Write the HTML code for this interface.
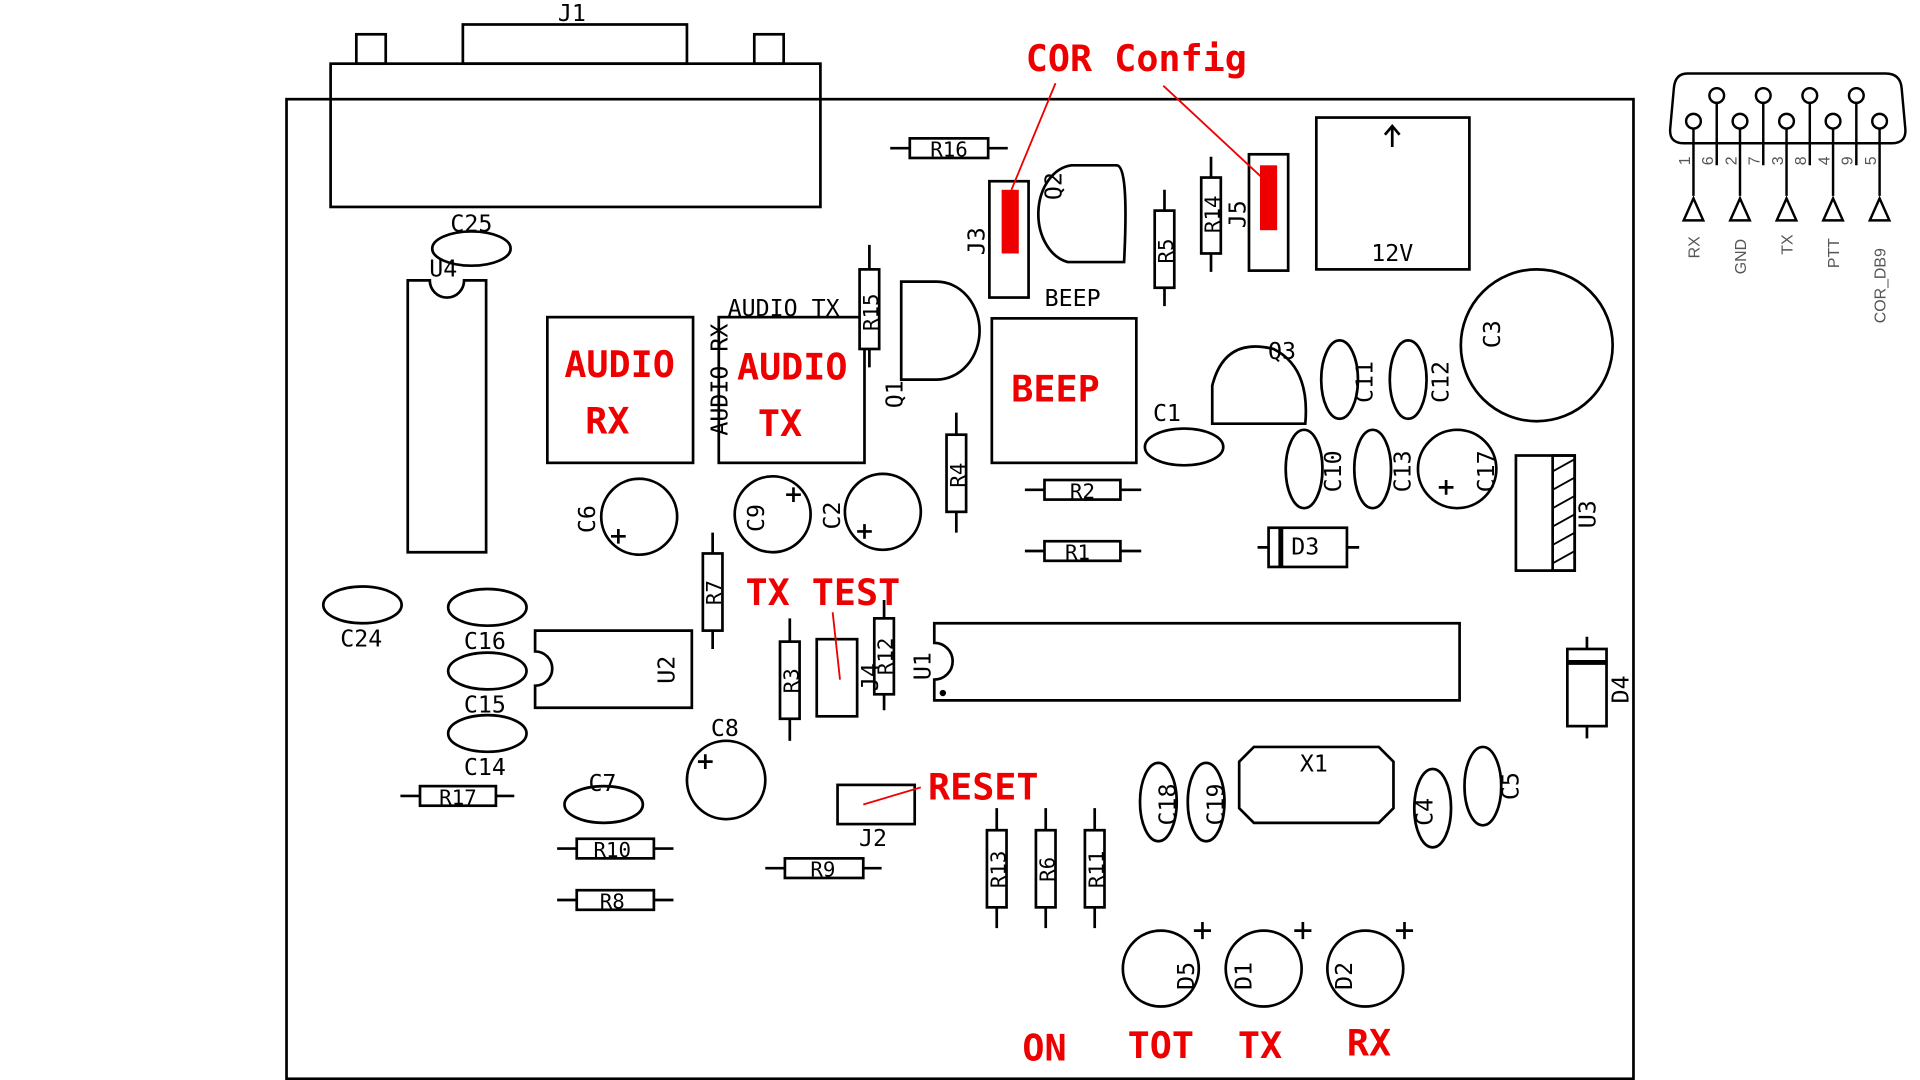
<!DOCTYPE html>
<html><head><meta charset="utf-8"><style>
html,body{margin:0;padding:0;background:#fff;width:1920px;height:1080px;overflow:hidden}
svg{display:block}
.t{font-family:"DejaVu Sans Mono","Liberation Mono",monospace;font-size:19px;fill:#000}
.r{font-family:"DejaVu Sans Mono","Liberation Mono",monospace;font-size:30px;font-weight:bold;fill:#e00}
.g{font-family:"Liberation Sans",sans-serif;font-size:13px;fill:#555}
</style></head><body>
<svg width="1920" height="1080" viewBox="0 0 1568 882" preserveAspectRatio="none" xmlns="http://www.w3.org/2000/svg">
<g fill="none" stroke="#000" stroke-width="2.2">
<rect x="234" y="81" width="1100" height="800"/>
<rect x="270" y="52" width="400" height="117"/>
<rect x="378" y="20" width="183" height="32"/>
<rect x="291" y="28" width="24" height="24"/><rect x="616" y="28" width="24" height="24"/>
<ellipse cx="385" cy="203" rx="32" ry="14"/>
<path d="M333 229H351A14 14 0 0 0 379 229H397V451H333Z"/>
<rect x="447" y="259" width="119" height="119"/>
<rect x="587" y="259" width="119" height="119"/>
<line x1="710" y1="200" x2="710" y2="300"/><rect x="702" y="220" width="16" height="65" fill="#fff"/>
<path d="M736 230H765A35 40 0 0 1 765 310H736Z"/>
<rect x="808" y="148" width="32" height="95"/>
<path d="M875 135H912Q922 135 918 214H872A30 40 0 0 1 875 135Z"/>
<line x1="951" y1="155" x2="951" y2="250"/><rect x="943" y="172" width="16" height="63" fill="#fff"/>
<line x1="989" y1="128" x2="989" y2="222"/><rect x="981" y="145" width="16" height="62" fill="#fff"/>
<rect x="1020" y="126" width="32" height="95"/>
<rect x="1075" y="96" width="125" height="124"/>
<path d="M1137 103V120M1131 110L1137 103L1143 110"/>
<rect x="810" y="260" width="118" height="118"/>
<line x1="781" y1="337" x2="781" y2="435"/><rect x="773" y="355" width="16" height="63" fill="#fff"/>
<line x1="837" y1="400" x2="932" y2="400"/><rect x="853" y="392" width="62" height="16" fill="#fff"/>
<line x1="837" y1="450" x2="932" y2="450"/><rect x="853" y="442" width="62" height="16" fill="#fff"/>
<line x1="727" y1="121" x2="823" y2="121"/><rect x="743" y="113" width="64" height="16" fill="#fff"/>
<ellipse cx="967" cy="365" rx="32" ry="15"/>
<path d="M990 346H1066Q1070 300 1040 285Q1000 275 990 315Z"/>
<ellipse cx="1094" cy="310" rx="15" ry="32"/><ellipse cx="1150" cy="310" rx="15" ry="32"/>
<ellipse cx="1065" cy="383" rx="15" ry="32"/><ellipse cx="1121" cy="383" rx="15" ry="32"/>
<circle cx="1255" cy="282" r="62"/>
<circle cx="1190" cy="383" r="32"/>
<path d="M1175 398H1187M1181 392V404"/>
<rect x="1238" y="372" width="48" height="94"/><rect x="1268" y="372" width="18" height="94"/>
<path d="M1268 385L1286 375M1268 400L1286 390M1268 415L1286 405M1268 430L1286 420M1268 445L1286 435M1268 460L1286 450" stroke-width="1.5"/>
<line x1="1027" y1="447" x2="1110" y2="447"/><rect x="1036" y="431" width="64" height="32" fill="#fff"/><line x1="1046" y1="431" x2="1046" y2="463" stroke-width="4"/>
<circle cx="522" cy="422" r="31"/><path d="M499 438H511M505 432V444"/>
<circle cx="631" cy="420" r="31"/><path d="M642 404H654M648 398V410"/>
<circle cx="721" cy="418" r="31"/><path d="M700 434H712M706 428V440"/>
<line x1="582" y1="435" x2="582" y2="530"/><rect x="574" y="452" width="16" height="63" fill="#fff"/>
<ellipse cx="296" cy="494" rx="32" ry="15"/>
<ellipse cx="398" cy="496" rx="32" ry="15"/><ellipse cx="398" cy="548" rx="32" ry="15"/><ellipse cx="398" cy="599" rx="32" ry="15"/>
<path d="M437 515H565V578H437V560A14 14 0 0 0 437 532Z"/>
<circle cx="593" cy="637" r="32"/><path d="M570 622H582M576 616V628"/>
<line x1="645" y1="505" x2="645" y2="605"/><rect x="637" y="524" width="16" height="63" fill="#fff"/>
<rect x="667" y="522" width="33" height="63"/>
<line x1="722" y1="490" x2="722" y2="580"/><rect x="714" y="505" width="16" height="62" fill="#fff"/>
<path d="M763 509H1192V572H763V555A15 15 0 0 0 763 525Z"/>
<line x1="1296" y1="520" x2="1296" y2="603"/><rect x="1280" y="530" width="32" height="63" fill="#fff"/><line x1="1280" y1="541" x2="1312" y2="541" stroke-width="4"/>
<path d="M1024 610H1126L1138 622V660L1126 672H1024L1012 660V622Z"/>
<ellipse cx="946" cy="655" rx="15" ry="32"/><ellipse cx="985" cy="655" rx="15" ry="32"/>
<ellipse cx="1170" cy="660" rx="15" ry="32"/><ellipse cx="1211" cy="642" rx="15" ry="32"/>
<ellipse cx="493" cy="657" rx="32" ry="15"/>
<line x1="327" y1="650" x2="420" y2="650"/><rect x="343" y="642" width="62" height="16" fill="#fff"/>
<line x1="455" y1="693" x2="550" y2="693"/><rect x="471" y="685" width="63" height="16" fill="#fff"/>
<line x1="455" y1="735" x2="550" y2="735"/><rect x="471" y="727" width="63" height="16" fill="#fff"/>
<line x1="625" y1="709" x2="720" y2="709"/><rect x="641" y="701" width="64" height="16" fill="#fff"/>
<rect x="684" y="641" width="63" height="32"/>
<line x1="814" y1="660" x2="814" y2="758"/><rect x="806" y="678" width="16" height="63" fill="#fff"/>
<line x1="854" y1="660" x2="854" y2="758"/><rect x="846" y="678" width="16" height="63" fill="#fff"/>
<line x1="894" y1="660" x2="894" y2="758"/><rect x="886" y="678" width="16" height="63" fill="#fff"/>
<circle cx="948" cy="791" r="31"/><circle cx="1032" cy="791" r="31"/><circle cx="1115" cy="791" r="31"/>
<path d="M975 760H989M982 753V767M1057 760H1071M1064 753V767M1140 760H1154M1147 753V767"/>
<circle cx="770" cy="566" r="1.5" fill="#000"/>
</g>
<g fill="#e00" stroke="none">
<rect x="818" y="155" width="14" height="52"/><rect x="1029" y="135" width="14" height="53"/>
</g>
<g stroke="#e00" stroke-width="1.5" fill="none">
<line x1="862" y1="68" x2="826" y2="155"/><line x1="950" y1="70" x2="1036" y2="150"/>
<line x1="680" y1="500" x2="686" y2="555"/><line x1="705" y1="657" x2="752" y2="643"/>
</g>
<g class="t" text-anchor="middle">
<text x="467" y="17">J1</text><text x="385" y="189">C25</text><text x="362" y="226">U4</text>
<text x="640" y="258">AUDIO TX</text><text x="876" y="250">BEEP</text><text x="1137" y="213">12V</text>
<text x="953" y="344">C1</text><text x="1047" y="293">Q3</text>
<text x="884" y="407" font-size="17">R2</text><text x="880" y="457" font-size="17">R1</text>
<text x="775" y="128" font-size="17">R16</text><text x="1066" y="453">D3</text>
<text x="295" y="528">C24</text><text x="396" y="530">C16</text><text x="396" y="582">C15</text><text x="396" y="633">C14</text>
<text x="592" y="601">C8</text><text x="492" y="646">C7</text>
<text x="374" y="657" font-size="17">R17</text><text x="500" y="700" font-size="17">R10</text><text x="500" y="742" font-size="17">R8</text>
<text x="672" y="716" font-size="17">R9</text><text x="713" y="691">J2</text><text x="1073" y="630">X1</text>
</g>
<g class="t" text-anchor="middle">
<text transform="translate(594,310) rotate(-90)">AUDIO RX</text>
<text transform="translate(717,255) rotate(-90)" font-size="17">R15</text>
<text transform="translate(737,322) rotate(-90)">Q1</text>
<text transform="translate(804,197) rotate(-90)">J3</text>
<text transform="translate(867,152) rotate(-90)">Q2</text>
<text transform="translate(958,205) rotate(-90)" font-size="17">R5</text>
<text transform="translate(996,175) rotate(-90)" font-size="17">R14</text>
<text transform="translate(1017,175) rotate(-90)">J5</text>
<text transform="translate(788,388) rotate(-90)" font-size="17">R4</text>
<text transform="translate(1225,273) rotate(-90)">C3</text>
<text transform="translate(1121,312) rotate(-90)">C11</text>
<text transform="translate(1183,312) rotate(-90)">C12</text>
<text transform="translate(1095,385) rotate(-90)">C10</text>
<text transform="translate(1152,385) rotate(-90)">C13</text>
<text transform="translate(1220,385) rotate(-90)">C17</text>
<text transform="translate(1303,420) rotate(-90)">U3</text>
<text transform="translate(486,424) rotate(-90)">C6</text>
<text transform="translate(624,423) rotate(-90)">C9</text>
<text transform="translate(686,421) rotate(-90)">C2</text>
<text transform="translate(589,484) rotate(-90)" font-size="17">R7</text>
<text transform="translate(551,547) rotate(-90)">U2</text>
<text transform="translate(652,556) rotate(-90)" font-size="17">R3</text>
<text transform="translate(717,553) rotate(-90)">J4</text>
<text transform="translate(729,536) rotate(-90)" font-size="17">R12</text>
<text transform="translate(760,544) rotate(-90)">U1</text>
<text transform="translate(1330,563) rotate(-90)">D4</text>
<text transform="translate(960,657) rotate(-90)">C18</text>
<text transform="translate(999,657) rotate(-90)">C19</text>
<text transform="translate(1170,663) rotate(-90)">C4</text>
<text transform="translate(1240,642) rotate(-90)">C5</text>
<text transform="translate(821,710) rotate(-90)" font-size="17">R13</text>
<text transform="translate(861,710) rotate(-90)" font-size="17">R6</text>
<text transform="translate(901,710) rotate(-90)" font-size="17">R11</text>
<text transform="translate(975,797) rotate(-90)">D5</text>
<text transform="translate(1022,797) rotate(-90)">D1</text>
<text transform="translate(1104,797) rotate(-90)">D2</text>
</g>
<g class="r" text-anchor="middle">
<text x="928" y="58">COR Config</text>
<text x="506" y="308">AUDIO</text><text x="496" y="354">RX</text>
<text x="647" y="310">AUDIO</text><text x="637" y="356">TX</text>
<text x="862" y="328">BEEP</text>
<text x="672" y="494">TX TEST</text>
<text x="803" y="653">RESET</text>
<text x="853" y="866">ON</text><text x="948" y="864">TOT</text><text x="1029" y="864">TX</text><text x="1118" y="862">RX</text>
</g>
<!-- DB9 -->
<g fill="none" stroke="#000" stroke-width="2">
<path d="M1378 60H1540Q1552 60 1553 72L1556 105Q1557 117 1545 117H1375Q1363 117 1364 105L1367 72Q1368 60 1378 60Z"/>
<path d="M1383 105V160M1421 105V160M1459 105V160M1497 105V160M1535 105V160M1402 84V135M1440 84V135M1478 84V135M1516 84V135"/>
<g fill="#fff"><circle cx="1383" cy="99" r="6"/><circle cx="1421" cy="99" r="6"/><circle cx="1459" cy="99" r="6"/><circle cx="1497" cy="99" r="6"/><circle cx="1535" cy="99" r="6"/>
<circle cx="1402" cy="78" r="6"/><circle cx="1440" cy="78" r="6"/><circle cx="1478" cy="78" r="6"/><circle cx="1516" cy="78" r="6"/></g>
<path d="M1383 162L1375 180H1391ZM1421 162L1413 180H1429ZM1459 162L1451 180H1467ZM1497 162L1489 180H1505ZM1535 162L1527 180H1543Z"/>
</g>
<g class="g">
<text transform="translate(1380,135) rotate(-90)">1</text><text transform="translate(1399,135) rotate(-90)">6</text>
<text transform="translate(1418,135) rotate(-90)">2</text><text transform="translate(1437,135) rotate(-90)">7</text>
<text transform="translate(1456,135) rotate(-90)">3</text><text transform="translate(1475,135) rotate(-90)">8</text>
<text transform="translate(1494,135) rotate(-90)">4</text><text transform="translate(1513,135) rotate(-90)">9</text>
<text transform="translate(1532,135) rotate(-90)">5</text>
<text transform="translate(1388,211) rotate(-90)">RX</text>
<text transform="translate(1426,224) rotate(-90)">GND</text>
<text transform="translate(1464,208) rotate(-90)">TX</text>
<text transform="translate(1502,219) rotate(-90)">PTT</text>
<text transform="translate(1540,264) rotate(-90)">COR_DB9</text>
</g>
</svg>
</body></html>
